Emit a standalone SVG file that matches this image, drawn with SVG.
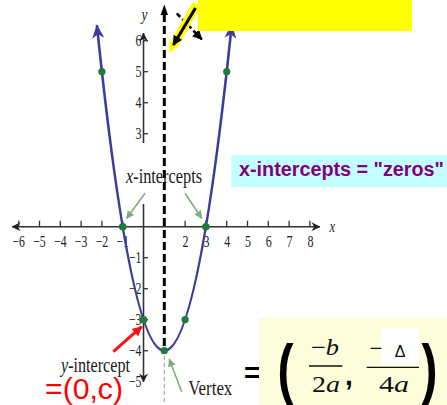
<svg xmlns="http://www.w3.org/2000/svg" width="447" height="405" viewBox="0 0 447 405">
<style>
.ax{stroke:#333;stroke-width:1.6;fill:none}
.tk{stroke:#333;stroke-width:1.3}
.lbl{font-family:"Liberation Serif",serif;font-size:16px;fill:#222}
.xl{text-anchor:middle}
.yl{text-anchor:end}
.curve{stroke:#3c3c9c;stroke-width:2.6;fill:none}
.dot{fill:#1e7b3a}
.gar{stroke:#80ad80;stroke-width:1.6;fill:none}
.cap{font-family:"Liberation Serif",serif;font-size:21px;fill:#1a1a1a}
.math{font-family:"Liberation Serif",serif;font-size:23px;fill:#111}
.big{font-family:"Liberation Sans",sans-serif;font-weight:bold;fill:#000}
</style>
<defs>
<marker id="ak" viewBox="0 0 10 10" refX="9.5" refY="5" markerWidth="9" markerHeight="9" markerUnits="userSpaceOnUse" orient="auto-start-reverse"><path d="M0,0 L10,5 L0,10 L3,5 Z" fill="#222"/></marker>
<marker id="ab" viewBox="0 0 14 12" refX="13" refY="6" markerWidth="14" markerHeight="12" markerUnits="userSpaceOnUse" orient="auto-start-reverse"><path d="M0,0 L14,6 L0,12 L4,6 Z" fill="#3c3c9c"/></marker>
<marker id="ag" viewBox="0 0 10 10" refX="9" refY="5" markerWidth="8" markerHeight="8" markerUnits="userSpaceOnUse" orient="auto"><path d="M0,0 L10,5 L0,10 Z" fill="#80ad80"/></marker>
<marker id="ar" viewBox="0 0 10 10" refX="9" refY="5" markerWidth="11" markerHeight="10" markerUnits="userSpaceOnUse" orient="auto"><path d="M0,0 L10,5 L0,10 Z" fill="#ff1010"/></marker>
<marker id="abk" viewBox="0 0 10 10" refX="9" refY="5" markerWidth="10" markerHeight="10" markerUnits="userSpaceOnUse" orient="auto"><path d="M0,0 L10,5 L0,10 Z" fill="#000"/></marker>
</defs>

<g id="axes">
<line class="ax" x1="12" y1="226.7" x2="320" y2="226.7" marker-start="url(#ak)" marker-end="url(#ak)"/>
<line class="ax" x1="143.5" y1="33" x2="143.5" y2="143" marker-start="url(#ak)"/>
<line class="ax" x1="143.5" y1="204" x2="143.5" y2="382" marker-end="url(#ak)"/>
<g class="tk">
<line x1="18.7" y1="220.7" x2="18.7" y2="226.7"/><line x1="39.5" y1="220.7" x2="39.5" y2="226.7"/><line x1="60.3" y1="220.7" x2="60.3" y2="226.7"/><line x1="81.1" y1="220.7" x2="81.1" y2="226.7"/><line x1="101.9" y1="220.7" x2="101.9" y2="226.7"/><line x1="122.7" y1="220.7" x2="122.7" y2="226.7"/>
<line x1="164.3" y1="220.7" x2="164.3" y2="226.7"/><line x1="185.1" y1="220.7" x2="185.1" y2="226.7"/><line x1="205.9" y1="220.7" x2="205.9" y2="226.7"/><line x1="226.7" y1="220.7" x2="226.7" y2="226.7"/><line x1="247.5" y1="220.7" x2="247.5" y2="226.7"/><line x1="268.3" y1="220.7" x2="268.3" y2="226.7"/><line x1="289.1" y1="220.7" x2="289.1" y2="226.7"/><line x1="309.9" y1="220.7" x2="309.9" y2="226.7"/>
<line x1="143.5" y1="40.7" x2="148" y2="40.7"/><line x1="143.5" y1="71.7" x2="148" y2="71.7"/><line x1="143.5" y1="102.7" x2="148" y2="102.7"/><line x1="143.5" y1="133.7" x2="148" y2="133.7"/>
<line x1="143.5" y1="257.7" x2="148" y2="257.7"/><line x1="143.5" y1="288.7" x2="148" y2="288.7"/><line x1="143.5" y1="319.7" x2="148" y2="319.7"/><line x1="143.5" y1="350.7" x2="148" y2="350.7"/>
</g>
<g class="lbl xl">
<text x="18.7" y="246.8" textLength="12.5" lengthAdjust="spacingAndGlyphs">−6</text>
<text x="39.5" y="246.8" textLength="12.5" lengthAdjust="spacingAndGlyphs">−5</text>
<text x="60.3" y="246.8" textLength="12.5" lengthAdjust="spacingAndGlyphs">−4</text>
<text x="81.1" y="246.8" textLength="12.5" lengthAdjust="spacingAndGlyphs">−3</text>
<text x="101.9" y="246.8" textLength="12.5" lengthAdjust="spacingAndGlyphs">−2</text>
<text x="122.7" y="246.8" textLength="12.5" lengthAdjust="spacingAndGlyphs">−1</text>
<text x="185.6" y="246.8" textLength="6" lengthAdjust="spacingAndGlyphs">2</text>
<text x="206.4" y="246.8" textLength="6" lengthAdjust="spacingAndGlyphs">3</text>
<text x="227.2" y="246.8" textLength="6" lengthAdjust="spacingAndGlyphs">4</text>
<text x="248" y="246.8" textLength="6" lengthAdjust="spacingAndGlyphs">5</text>
<text x="268.8" y="246.8" textLength="6" lengthAdjust="spacingAndGlyphs">6</text>
<text x="289.6" y="246.8" textLength="6" lengthAdjust="spacingAndGlyphs">7</text>
<text x="310.4" y="246.8" textLength="6" lengthAdjust="spacingAndGlyphs">8</text>
</g>
<g class="lbl yl">
<text x="141.5" y="45.5" textLength="6" lengthAdjust="spacingAndGlyphs">6</text>
<text x="141.5" y="76.5" textLength="6" lengthAdjust="spacingAndGlyphs">5</text>
<text x="141.5" y="107.5" textLength="6" lengthAdjust="spacingAndGlyphs">4</text>
<text x="141.5" y="138.5" textLength="6" lengthAdjust="spacingAndGlyphs">3</text>
<text x="141.5" y="262.5" textLength="12.5" lengthAdjust="spacingAndGlyphs">−1</text>
<text x="141.5" y="293.5" textLength="12.5" lengthAdjust="spacingAndGlyphs">−2</text>
<text x="141.5" y="324.5" textLength="12.5" lengthAdjust="spacingAndGlyphs">−3</text>
<text x="141.5" y="355.5" textLength="12.5" lengthAdjust="spacingAndGlyphs">−4</text>
<text x="141.5" y="386.5" textLength="12.5" lengthAdjust="spacingAndGlyphs">−5</text>
</g>
<text class="lbl" x="141.5" y="20" font-style="italic" textLength="6" lengthAdjust="spacingAndGlyphs">y</text>
<text class="lbl" x="329.5" y="231.5" font-style="italic" font-size="14" textLength="5.5" lengthAdjust="spacingAndGlyphs">x</text>
</g>

<g id="connectors">
<line x1="164.3" y1="14" x2="164.3" y2="350" stroke="#000" stroke-width="3" stroke-dasharray="8 4"/>
<polygon points="164.3,4.5 160.6,15 168,15" fill="#000"/>
<line x1="164.3" y1="356" x2="164.3" y2="405" stroke="#aaa" stroke-width="1.2" stroke-dasharray="4 3"/>
<line class="gar" x1="145" y1="193.3" x2="126.7" y2="218.3" marker-end="url(#ag)"/>
<line class="gar" x1="185" y1="193.3" x2="201.7" y2="218.3" marker-end="url(#ag)"/>
<line class="gar" x1="181.7" y1="391.7" x2="169.3" y2="359.3" marker-end="url(#ag)"/>
<line x1="113.3" y1="351.7" x2="141.7" y2="326.7" stroke="#ff1010" stroke-width="3" marker-end="url(#ar)"/>
<line x1="176.7" y1="13.3" x2="201.7" y2="39.3" stroke="#000" stroke-width="2.6" stroke-dasharray="5 3" marker-end="url(#abk)"/>
<line x1="197" y1="4" x2="173" y2="46" stroke="#ffff00" stroke-width="9"/>
<polygon points="169,53 169.5,41 179,46" fill="#ffff00"/>
<line x1="195.5" y1="8" x2="173.3" y2="45" stroke="#000" stroke-width="3" marker-end="url(#abk)"/>
</g>

<g id="parabola">
<path class="curve" d="M96.9,25.2 Q164.3,676.2 231.7,25.2" marker-start="url(#ab)" marker-end="url(#ab)"/>
<circle class="dot" cx="101.9" cy="71.7" r="3.6"/>
<circle class="dot" cx="226.7" cy="71.7" r="3.6"/>
<circle class="dot" cx="122.7" cy="226.7" r="3.8"/>
<circle class="dot" cx="205.9" cy="226.7" r="3.8"/>
<circle class="dot" cx="143.5" cy="319.7" r="3.8"/>
<circle class="dot" cx="185.1" cy="319.7" r="3.6"/>
<circle class="dot" cx="164.3" cy="350.7" r="3.6"/>
</g>

<g id="top-box">
<rect x="198" y="0" width="214" height="31" fill="#ffff00"/>
</g>

<g id="zeros-box">
<rect x="231" y="155" width="216" height="32" fill="#c4ffff"/>
<text x="239" y="176" font-family="Liberation Sans, sans-serif" font-weight="bold" font-size="19.5" fill="#800080" textLength="205" lengthAdjust="spacingAndGlyphs">x-intercepts = "zeros"</text>
</g>

<g id="x-intercepts-label">
<text class="cap" x="126" y="183.3" textLength="76" lengthAdjust="spacingAndGlyphs"><tspan font-style="italic">x</tspan>-intercepts</text>
</g>

<g id="y-intercept-label">
<text class="cap" x="61" y="371.7" textLength="69" lengthAdjust="spacingAndGlyphs"><tspan font-style="italic">y</tspan>-intercept</text>
<text x="45" y="398.5" font-family="Liberation Sans, sans-serif" font-size="29" fill="#ff0000" textLength="78" lengthAdjust="spacingAndGlyphs">=(0,c)</text>
</g>

<g id="vertex-label">
<text class="cap" x="188.3" y="395" textLength="44" lengthAdjust="spacingAndGlyphs">Vertex</text>
</g>

<g id="vertex-formula">
<text class="big" x="244" y="382" font-size="28">=</text>
<rect x="259" y="318" width="188" height="87" fill="#fdfddc"/>
<text class="big" x="277.5" y="391" font-size="66" textLength="16" lengthAdjust="spacingAndGlyphs">(</text>
<text class="big" x="421.5" y="391" font-size="66" textLength="16" lengthAdjust="spacingAndGlyphs">)</text>
<text class="math" x="311" y="355" textLength="28" lengthAdjust="spacingAndGlyphs">−<tspan font-style="italic">b</tspan></text>
<line x1="309" y1="366" x2="342.3" y2="366" stroke="#111" stroke-width="1.3"/>
<text class="math" x="312" y="391.7" textLength="28" lengthAdjust="spacingAndGlyphs">2<tspan font-style="italic">a</tspan></text>
<text class="big" x="345" y="385" font-size="28">,</text>
<rect x="381.3" y="328.3" width="37.7" height="36.7" fill="#fff"/>
<text class="math" x="369.5" y="356">−</text>
<text x="400" y="357" font-family="Liberation Sans, sans-serif" font-size="16" fill="#111" text-anchor="middle">Δ</text>
<line x1="366.7" y1="367.3" x2="419" y2="367.3" stroke="#111" stroke-width="1.3"/>
<text class="math" x="379" y="391.7" textLength="30" lengthAdjust="spacingAndGlyphs">4<tspan font-style="italic">a</tspan></text>
</g>
</svg>
